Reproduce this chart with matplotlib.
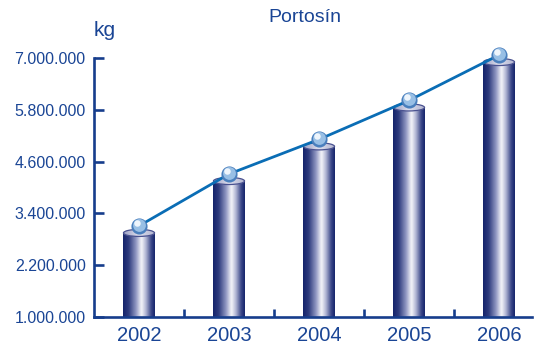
import numpy as np
import matplotlib
matplotlib.use("Agg")
import matplotlib.pyplot as plt
from matplotlib.colors import LinearSegmentedColormap
from matplotlib.patches import Ellipse
from matplotlib.transforms import ScaledTranslation

years = ["2002", "2003", "2004", "2005", "2006"]
values = [2950000, 4150000, 4950000, 5850000, 6900000]
yticks = [1000000, 2200000, 3400000, 4600000, 5800000, 7000000]
ytick_labels = ["1.000.000", "2.200.000", "3.400.000", "4.600.000", "5.800.000", "7.000.000"]
title = "Portosín"
unit = "kg"

plt.rcParams['font.family'] = ['Liberation Sans', 'DejaVu Sans']
DPI = 100
fig = plt.figure(figsize=(5.39, 3.47), dpi=DPI)
W, H = 539, 347
ax_left, ax_right = 94, 532
ax_bottom, ax_top = 317.3, 57.7
ax = fig.add_axes([ax_left / W, 1 - ax_bottom / H, (ax_right - ax_left) / W, (ax_bottom - ax_top) / H])

ymin, ymax = 1000000, 7000000
xmin = -0.5
xmax = xmin + (ax_right - ax_left) / 90.0
ax.set_xlim(xmin, xmax)
ax.set_ylim(ymin, ymax)

axis_col = '#163d8c'
text_col = '#1a4595'

body_cmap = LinearSegmentedColormap.from_list('cyl', [
    (0.0, '#14236a'), (0.18, '#2f3c7e'), (0.4, '#8d94c0'), (0.58, '#f6f6fa'),
    (0.72, '#b0b4d3'), (0.88, '#3e4a8a'), (1.0, '#14236a')])
top_cmap = LinearSegmentedColormap.from_list('top', ['#9a9ec4', '#dfe0ee', '#b0b3cf'])
grad = np.linspace(0, 1, 256).reshape(1, -1)

bw = 0.345
px_per_unit_y = (ax_bottom - ax_top) / (ymax - ymin)
ell_h = 7 / px_per_unit_y
x = np.arange(len(years))
for xi, v in zip(x, values):
    ax.imshow(grad, cmap=body_cmap, extent=[xi - bw / 2, xi + bw / 2, ymin, v],
              aspect='auto', interpolation='bicubic', zorder=2)
    e = Ellipse((xi, v), bw, ell_h, facecolor='#c3c6de', edgecolor='none', zorder=3)
    ax.add_patch(e)
    im = ax.imshow(grad, cmap=top_cmap, extent=[xi - bw / 2, xi + bw / 2, v - ell_h / 2, v + ell_h / 2],
                   aspect='auto', interpolation='bicubic', zorder=3.1)
    im.set_clip_path(e)
    e2 = Ellipse((xi, v), bw, ell_h, facecolor='none', edgecolor='#4a5290', lw=0.9, zorder=3.2)
    ax.add_patch(e2)

ax.set_xlim(xmin, xmax)
ax.set_ylim(ymin, ymax)

up = ScaledTranslation(0, 7 / DPI, fig.dpi_scale_trans)
tr = ax.transData + up
ax.plot(x, values, color='#0a6db5', lw=2.0, transform=tr, zorder=4, clip_on=False, solid_capstyle='round')
ax.scatter(x, values, s=135, color='#4a7fbd', transform=tr, zorder=5, clip_on=False, linewidths=0)
tr2 = ax.transData + ScaledTranslation(-0.3 / DPI, 1.3 / DPI, fig.dpi_scale_trans) + up
ax.scatter(x, values, s=85, color='#98bfe5', transform=tr2, zorder=5.1, clip_on=False, linewidths=0)
tr3 = ax.transData + ScaledTranslation(-1.6 / DPI, 3.0 / DPI, fig.dpi_scale_trans) + up
ax.scatter(x, values, s=22, color='#eef5fc', transform=tr3, zorder=5.2, clip_on=False, linewidths=0)

for s in ['top', 'right']:
    ax.spines[s].set_visible(False)
for s in ['left', 'bottom']:
    ax.spines[s].set_color(axis_col)
    ax.spines[s].set_linewidth(1.9)
    ax.spines[s].set_capstyle('projecting')

ax.set_yticks(yticks)
ax.set_yticklabels(ytick_labels)
ax.tick_params(axis='y', direction='in', length=7, width=1.9, color=axis_col,
               labelcolor=text_col, labelsize=11.5, pad=6)
ax.set_xticks(x)
ax.set_xticklabels(years)
ax.tick_params(axis='x', which='major', length=0, labelcolor=text_col, labelsize=14.5, pad=6)
ax.set_xticks(np.arange(len(years) - 1) + 0.5, minor=True)
ax.tick_params(axis='x', which='minor', direction='in', length=6, width=1.9, color=axis_col)

fig.text(305 / W, 1 - 17 / H, title, ha='center', va='center', fontsize=14, color=text_col)
fig.text(94 / W, 1 - 31 / H, unit, ha='left', va='center', fontsize=15, color=text_col)

fig.savefig('out.png', dpi=DPI)
